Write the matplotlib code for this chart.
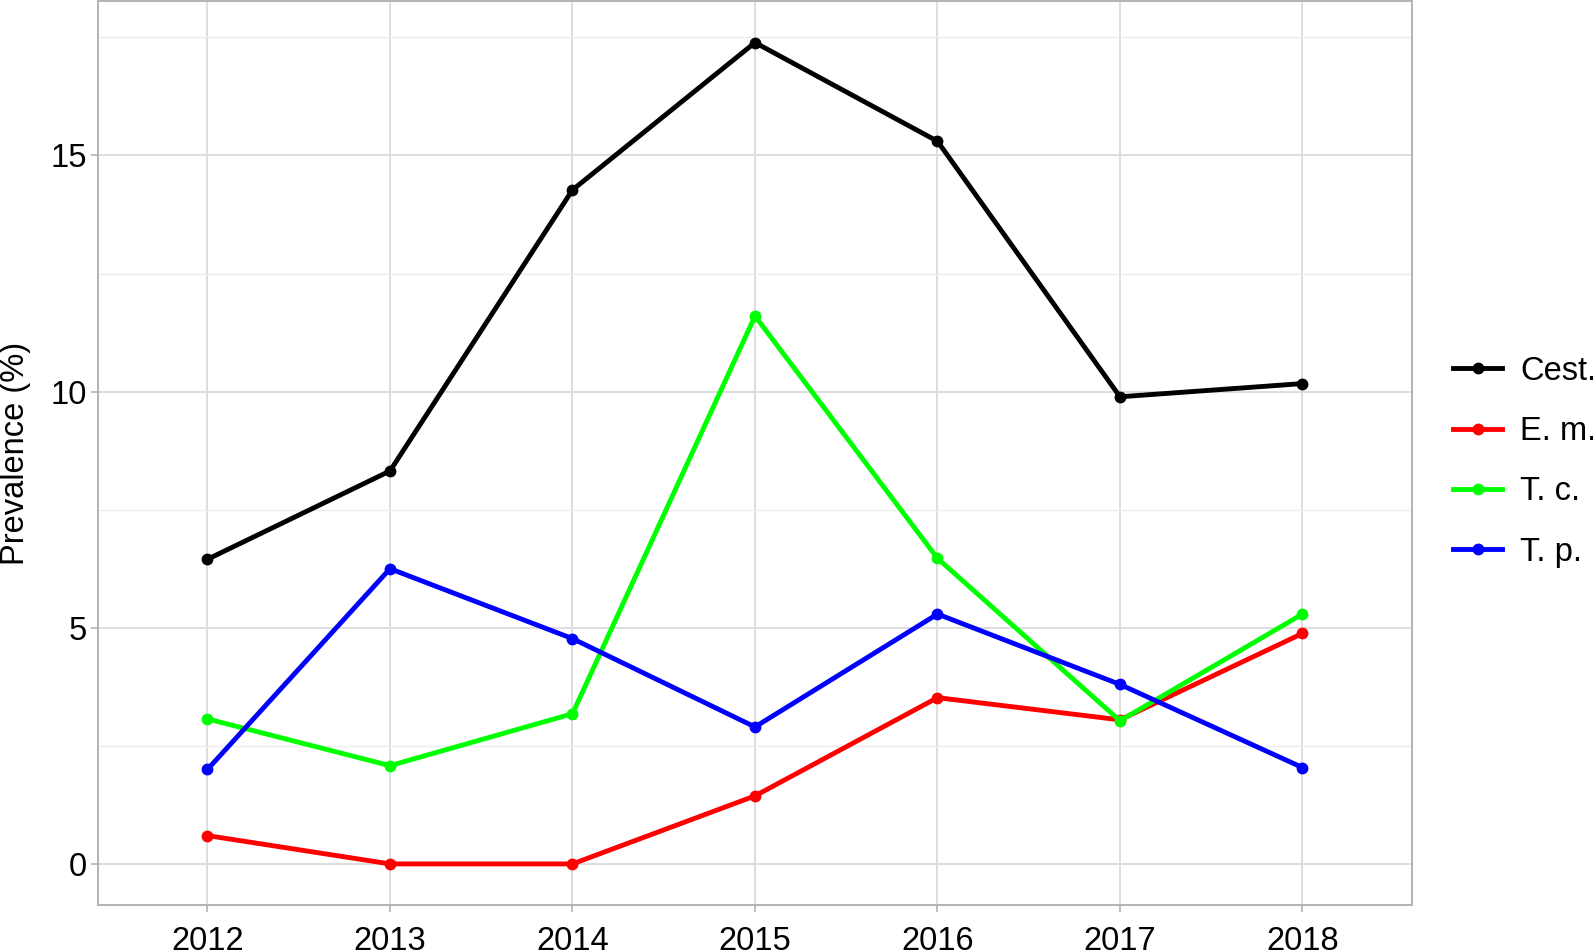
import matplotlib.pyplot as plt
from matplotlib.ticker import MultipleLocator

plt.rcParams['font.family'] = ['Liberation Sans', 'DejaVu Sans']

years = ['2012', '2013', '2014', '2015', '2016', '2017', '2018']
cest = [6.45, 8.32, 14.27, 17.39, 15.30, 9.89, 10.17]
e_m = [0.60, 0.0, 0.0, 1.44, 3.52, 3.05, 4.88]
t_c = [3.07, 2.08, 3.18, 11.60, 6.47, 3.03, 5.29]
t_p = [2.00, 6.25, 4.77, 2.90, 5.29, 3.80, 2.04]

series = [('Cest.', cest, '#000000'), ('E. m.', e_m, '#FF0000'),
          ('T. c.', t_c, '#00FF00'), ('T. p.', t_p, '#0000FF')]

fig = plt.figure(figsize=(15.93, 9.5), dpi=100)
ax = fig.add_axes([98/1593, 45/950, (1412-98)/1593, 904/950])

x = range(len(years))
for name, vals, col in series:
    ax.plot(x, vals, color=col, lw=3.5, marker='o', ms=7.5, label=name)

ax.set_xlim(-0.6, len(years) - 1 + 0.6)
ax.set_ylim(-0.87, 18.27)
ax.set_xticks(list(x))
ax.set_xticklabels(years)
ax.yaxis.set_major_locator(MultipleLocator(5))
ax.yaxis.set_minor_locator(MultipleLocator(2.5))
ax.xaxis.set_minor_locator(plt.NullLocator())

ax.grid(which='major', color='#DEDEDE', lw=1.4)
ax.grid(which='minor', axis='y', color='#EDEDED', lw=1.0)
ax.set_axisbelow(True)
for s in ax.spines.values():
    s.set_color('#B3B3B3')
    s.set_linewidth(1.4)
ax.tick_params(which='major', colors='#B3B3B3', labelcolor='black', length=5, width=1.2,
               labelsize=23.5)
ax.tick_params(axis='x', pad=10)
ax.tick_params(axis='y', pad=3)
ax.tick_params(which='minor', length=0)
ax.set_ylabel('Prevalence (%)', fontsize=23.5)
ax.yaxis.set_label_coords(-0.051, 0.5)

ax.legend(loc='center left', bbox_to_anchor=(1424/1593, 0.514), bbox_transform=fig.transFigure,
          frameon=False, fontsize=23.5, handlelength=1.5, labelspacing=0.9, handletextpad=0.55)

fig.savefig('out.png', dpi=100)
